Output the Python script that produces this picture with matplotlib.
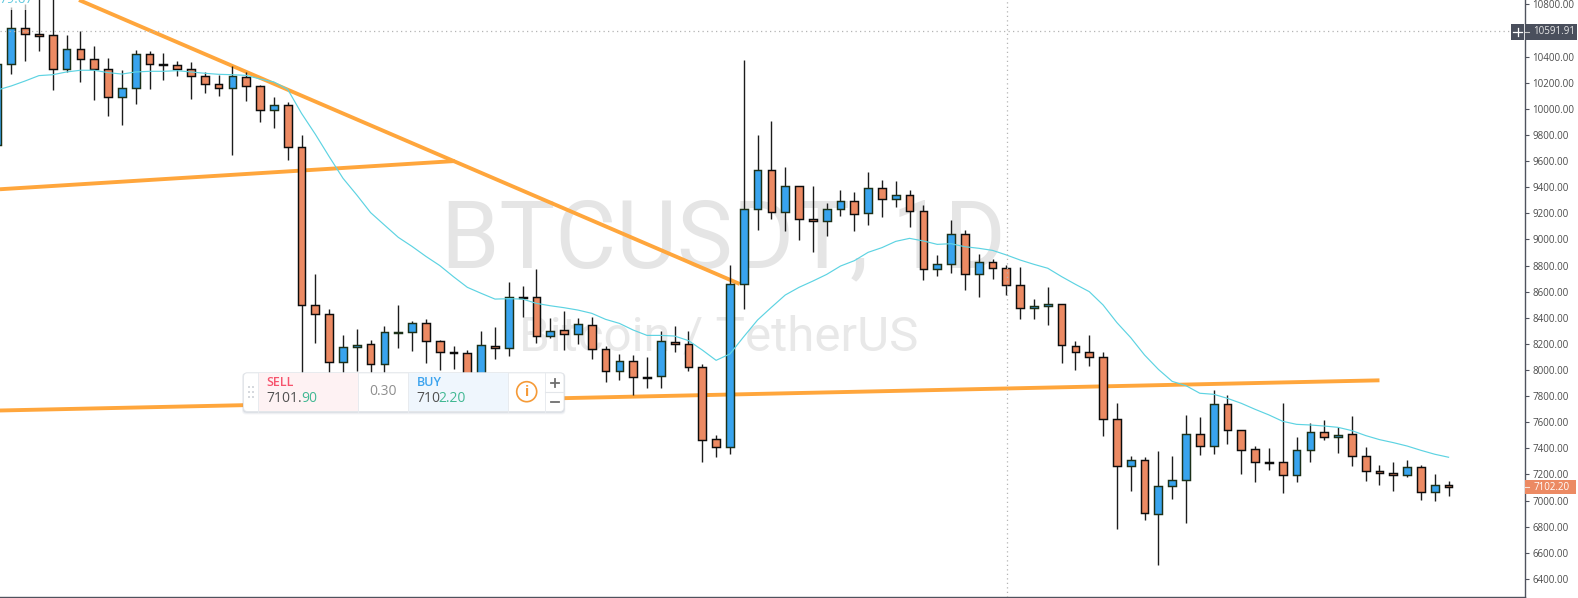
import matplotlib
matplotlib.use("Agg")
import matplotlib.pyplot as plt
from matplotlib.patches import Rectangle, FancyBboxPatch, Circle

plt.rcParams['font.family'] = ['Open Sans', 'DejaVu Sans']

# Bar index -1 .. 104 (daily candles)
opens = [9720,10340,10616,10572,10565,10302,10455,10379,10302,10093,10157,10417,10346,10333,10302,10249,10187,
         10157,10241,10172,9988,10027,9705,8495,8426,8059,8175,8196,8043,8286,8288,8357,8219,8137,8128,7900,8186,
         8166,8561,8556,8258,8304,8273,8342,8158,7990,8066,7947,7952,8215,8197,8020,7469,7408,8656,9230,9529,9207,
         9406,9154,9138,9230,9291,9200,9391,9307,9337,9215,8771,8809,9039,8732,8824,8778,8648,8472,8487,8503,8181,
         8135,8097,7623,7263,7309,6895,7110,7156,7508,7416,7737,7538,7393,7296,7293,7194,7385,7523,7487,7508,7339,
         7224,7208,7194,7255,7064,7116]
closes = [10340,10616,10570,10560,10302,10455,10379,10302,10093,10157,10417,10340,10332,10302,10249,10187,10157,
          10249,10172,9988,10027,9705,8495,8426,8059,8174,8192,8043,8288,8288,8357,8219,8135,8128,7900,8189,8170,
          8556,8554,8258,8296,8273,8350,8158,7990,8066,7944,7941,8220,8199,8020,7462,7408,8656,9230,9529,9207,9406,
          9154,9138,9230,9291,9192,9391,9307,9337,9215,8771,8809,9039,8732,8824,8778,8648,8472,8488,8503,8189,8135,
          8097,7623,7263,7309,6903,7110,7156,7508,7416,7737,7538,7385,7293,7291,7194,7385,7523,7485,7503,7339,7224,
          7209,7193,7255,7064,7117,7102]
highs = [10340,10779,10802,10900,10900,10565,10596,10481,10389,10297,10450,10443,10427,10366,10358,10282,10259,
         10328,10282,10182,10090,10050,9799,8735,8467,8268,8314,8230,8337,8498,8375,8390,8227,8184,8151,8299,8329,
         8671,8643,8773,8398,8452,8398,8406,8184,8120,8115,8100,8299,8337,8299,8043,7500,8804,10373,9799,9906,9554,
         9406,9409,9276,9378,9363,9516,9455,9447,9378,9263,8881,9148,9072,8888,8850,8801,8789,8544,8636,8503,8222,
         8268,8138,7748,7342,7334,7380,7342,7656,7640,7847,7809,7538,7418,7403,7748,7487,7594,7617,7564,7648,7411,
         7273,7296,7311,7273,7204,7150]
lows = [9720,10269,10369,10445,10146,10284,10208,10070,9947,9879,10039,10154,10223,10254,10078,10124,10101,
        9649,10062,9902,9856,9611,7923,8209,7923,7949,7995,7949,7949,8168,8145,8054,8000,8008,7880,7880,8084,
        8107,8408,8209,8242,8153,8199,8084,7911,7923,7811,7865,7865,8140,7995,7298,7337,7360,8470,9074,9159,9067,
        8998,8906,9029,9182,9067,9113,9174,9251,9097,8692,8722,8745,8615,8562,8699,8577,8393,8393,8347,8056,8003,
        8033,7498,6785,7076,6854,6510,7015,6831,7352,7360,7436,7207,7145,7237,7061,7145,7298,7467,7367,7268,7153,
        7122,7076,7184,7007,7000,7038]

ema = [10144,10175,10213,10254,10261,10282,10295,10295,10277,10266,10282,10287,10287,10292,10282,10272,10264,
       10261,10256,10228,10205,10149,9965,9805,9634,9468,9340,9205,9110,9016,8946,8870,8800,8714,8633,8587,8543,
       8546,8543,8510,8492,8477,8459,8434,8388,8357,8306,8265,8265,8260,8225,8153,8074,8123,8255,8383,8480,8574,
       8633,8681,8732,8796,8837,8901,8937,8985,9008,8988,8962,8967,8944,8932,8916,8881,8842,8809,8779,8715,8656,
       8600,8498,8363,8248,8115,8005,7913,7880,7822,7814,7783,7745,7699,7656,7607,7584,7579,7571,7561,7536,7498,
       7467,7444,7418,7385,7355,7332]

trend_a_x = [4.9, 52.7]
trend_a_y = [10833, 8659]
trend_b_x = [-0.82, 32.1]
trend_b_y = [9384, 9600]
trend_c_x = [-0.82, 99.0]
trend_c_y = [7690, 7921]

price_ticks = [6400,6600,6800,7000,7200,7400,7600,7800,8000,8200,8400,8600,8800,9000,9200,9400,9600,9800,10000,10200,10400,10600,10800]
last_price = 7102.20
cross_price = 10591.91
cross_bar = 72.07

BLUE, ORANGE = '#38a4ee', '#ec8a63'
EDGE_UP, EDGE_DOWN = '#1c3018', '#0c0c0c'
TREND = '#ffa63c'
TEAL = '#5dd3e2'

W, H = 1578, 598
fig = plt.figure(figsize=(W/100, H/100), dpi=100, facecolor='white')
ax = fig.add_axes([0, 1/H, 1525/W, 597/H])
ax.set_xlim(-0.818, 109.53)
ax.set_ylim(6262, 10833)
ax.set_facecolor('white')

bars = list(range(-1, 105))
up = [c >= o for o, c in zip(opens, closes)]
ax.vlines(bars, lows, highs, colors='#1c1c1c', linewidth=1.0, zorder=3)
ax.bar(bars, [abs(c-o) for o, c in zip(opens, closes)], bottom=[min(o, c) for o, c in zip(opens, closes)],
       width=0.56, color=[BLUE if u else ORANGE for u in up],
       edgecolor=[EDGE_UP if u else EDGE_DOWN for u in up], linewidth=1.05, zorder=4)

for tx, ty in ((trend_a_x, trend_a_y), (trend_b_x, trend_b_y), (trend_c_x, trend_c_y)):
    ax.plot(tx, ty, color=TREND, lw=2.8, solid_capstyle='butt', zorder=2.5)
ax.plot(bars, ema, color=TEAL, lw=0.85, zorder=5)

ax.axhline(cross_price, color='#b4b4b4', lw=0.9, ls=(0, (1, 2.6)), zorder=6)
ax.axvline(cross_bar, color='#b4b4b4', lw=0.9, ls=(0, (1, 2.6)), zorder=6)

for s in ('top', 'left'):
    ax.spines[s].set_visible(False)
for s in ('right', 'bottom'):
    ax.spines[s].set_color('#50535e')
    ax.spines[s].set_linewidth(1.0)
ax.set_xticks([])
ax.yaxis.tick_right()
ax.set_yticks(price_ticks)
ax.set_yticklabels([f'{p:.2f}' for p in price_ticks], fontsize=7.0, color='#4b4b4b')
ax.tick_params(axis='y', length=3, width=0.8, color='#50535e', pad=2.5)

# overlay in pixel coordinates for the page furniture
ov = fig.add_axes([0, 0, 1, 1], zorder=10)
ov.set_xlim(0, W)
ov.set_ylim(H, 0)
ov.axis('off')
ov.patch.set_alpha(0)

# watermark sits behind the candles
ax.text(441/1525, 1-267.3/597, 'BTCUSDT, 1D', transform=ax.transAxes, fontsize=67.5, color='#e5e5e5',
        family='Roboto', ha='left', va='baseline', zorder=1)
ax.text(519/1525, 1-350/597, 'Bitcoin / TetherUS', transform=ax.transAxes, fontsize=35.5, color='#e8e8e8',
        family='Roboto', ha='left', va='baseline', zorder=1)

# indicator value, clipped at the top edge
ov.add_patch(Rectangle((0, 0), 32, 10, fc='white', alpha=0.65, ec='none'))
ov.text(-1, 3, '79.67', color='#5dc8de', fontsize=9.5, ha='left', va='baseline')

# right-hand price labels
ov.add_patch(Rectangle((1525.5, 24), 52, 15.5, fc='#4a4f5c', ec='none'))
ov.add_patch(Rectangle((1511, 24), 13, 15.5, fc='#4a4f5c', ec='none'))
ov.plot([1513.5, 1522], [31.7, 31.7], color='white', lw=0.9)
ov.plot([1517.7, 1517.7], [27.5, 36], color='white', lw=0.9)
ov.plot([1525.5, 1529.5], [31.7, 31.7], color='#c8c8c8', lw=0.8)
ov.text(1533.3, 31.9, '10591.91', color='#e8e8e8', fontsize=7.0, ha='left', va='center')
ov.add_patch(Rectangle((1525.5, 480), 51, 14, fc=ORANGE, ec='none'))
ov.plot([1525.5, 1529.5], [487, 487], color='#fbe3d8', lw=0.8)
ov.text(1533.3, 487, '7102.20', color='white', fontsize=7.0, ha='left', va='center')

# trading widget
L, T, R, B = 243.5, 372.8, 564, 411.5
for off, a in ((3, .08), (2, .12), (1, .2)):
    ov.add_patch(FancyBboxPatch((L-off/2, T), R-L+off, B-T+off, boxstyle='round,pad=0,rounding_size=4',
                                fc='#8a94a6', ec='none', alpha=a))
ov.add_patch(FancyBboxPatch((L, T), R-L, B-T, boxstyle='round,pad=0,rounding_size=4', fc='white', ec='#e3e6ea', lw=0.7))
ov.add_patch(Rectangle((258.5, T+0.5), 100, B-T-1, fc='#fef2f3', ec='none'))
ov.add_patch(Rectangle((408.5, T+0.5), 100, B-T-1, fc='#eff6fd', ec='none'))
for xl in (258.5, 358.5, 408.5, 508.5, 545.5):
    ov.plot([xl, xl], [T, B], color='#e8ebef', lw=0.7)
ov.plot([545.5, R], [392, 392], color='#e3e6ea', lw=0.8)
for xd in (248.7, 253.3):
    for yd in (387, 391.7, 396.7):
        ov.add_patch(Rectangle((xd-1, yd-1), 2, 2, fc='#d6d9de', ec='none'))
ov.text(266, 383, 'SELL', color='#f6546d', fontsize=9.0, fontweight='semibold', ha='left', va='center')
ov.text(416.7, 383, 'BUY', color='#3ca3ee', fontsize=9.0, fontweight='semibold', ha='left', va='center')
GREEN, DARK = '#41b893', '#505050'
ov.text(266, 399, '7101.', color=DARK, fontsize=10, ha='left', va='center')
ov.text(301, 399, '90', color=GREEN, fontsize=10, ha='left', va='center')
ov.text(416.7, 399, '710', color=DARK, fontsize=10, ha='left', va='center')
ov.text(438.7, 399, '2.20', color=GREEN, fontsize=10, ha='left', va='center')
ov.text(383, 391.5, '0.30', color='#8e8e8e', fontsize=10, ha='center', va='center')
ov.add_patch(Circle((526.7, 391.7), 10, fc='white', ec='#f59a37', lw=1.2))
ov.text(526.7, 391.7, 'i', color='#f59a37', fontsize=10, fontweight='bold', ha='center', va='center')
ov.plot([551, 559], [382.7, 382.7], color='#6e6e6e', lw=1.3)
ov.plot([555, 555], [378.7, 386.7], color='#6e6e6e', lw=1.3)
ov.plot([551, 559], [401.7, 401.7], color='#6e6e6e', lw=1.3)

fig.savefig('out.png', dpi=100)
